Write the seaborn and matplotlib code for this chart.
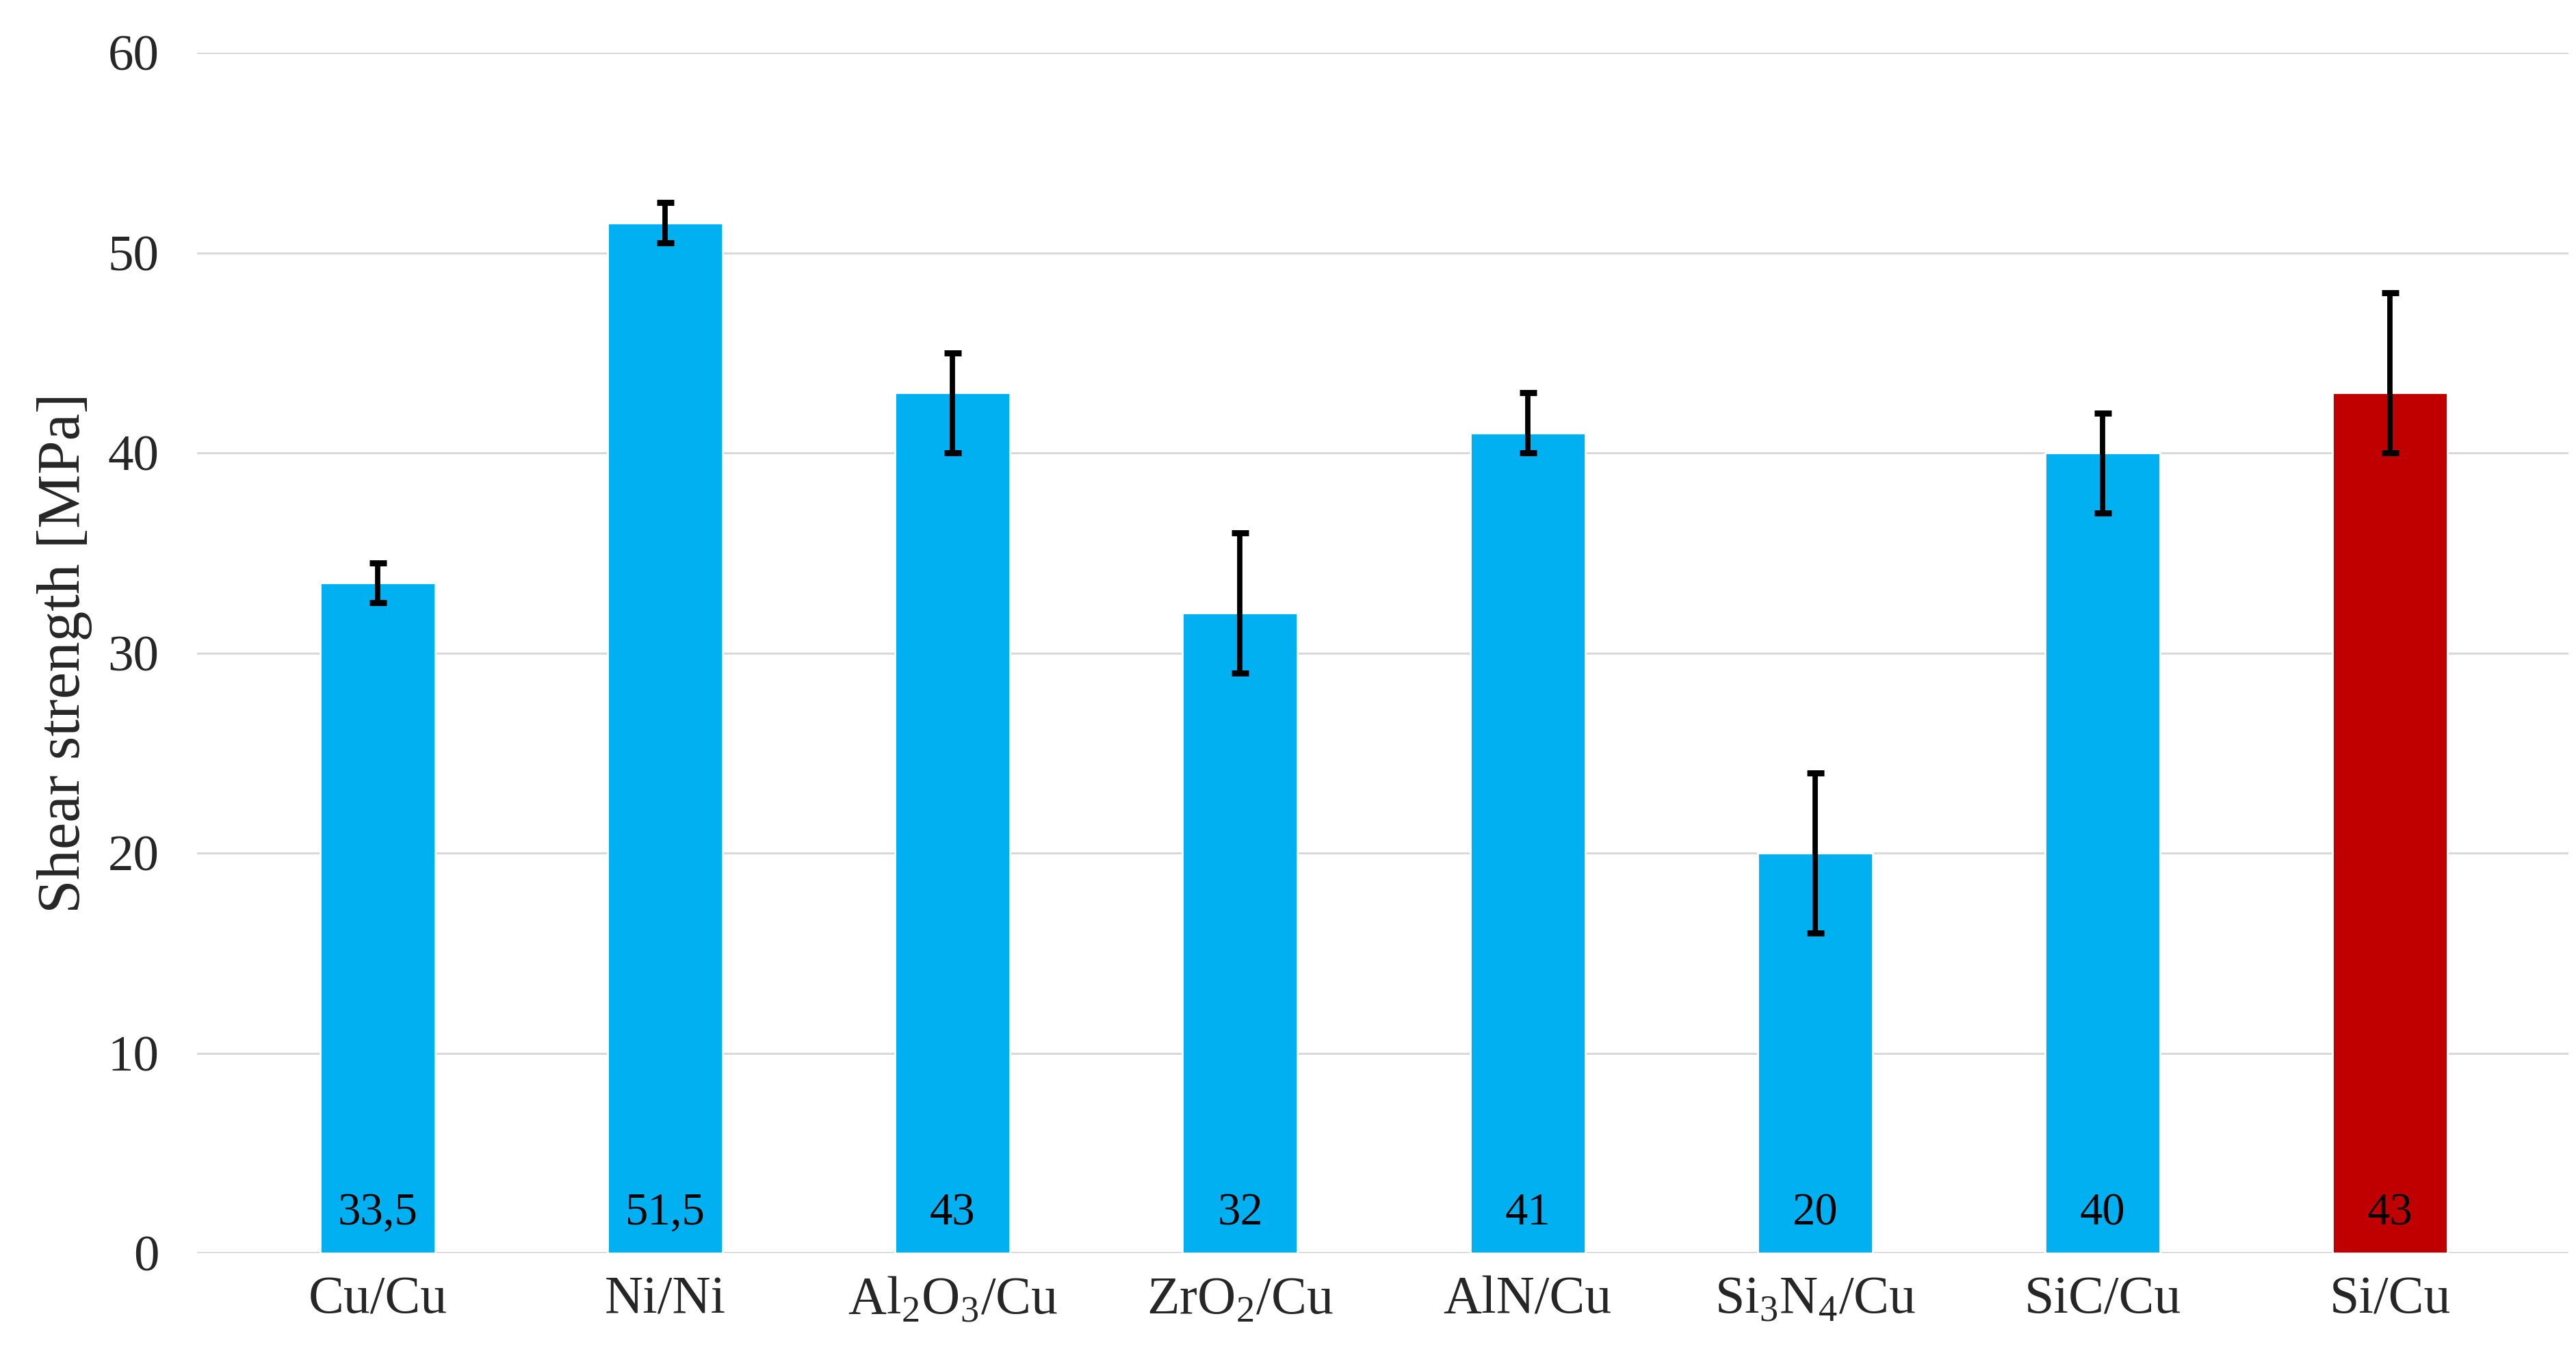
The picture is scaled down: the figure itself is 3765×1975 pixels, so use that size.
import matplotlib
matplotlib.use("Agg")
import matplotlib.pyplot as plt
import seaborn as sns
import pandas as pd

# dados de resistencia ao cisalhamento
joints = ["Cu/Cu", "Ni/Ni", "Al$_\\mathregular{2}$O$_\\mathregular{3}$/Cu", "ZrO$_\\mathregular{2}$/Cu",
          "AlN/Cu", "Si$_\\mathregular{3}$N$_\\mathregular{4}$/Cu", "SiC/Cu", "Si/Cu"]
strength = [33.5, 51.5, 43, 32, 41, 20, 40, 43]
err_low = [1, 1, 3, 3, 1, 4, 3, 3]
err_high = [1, 1, 2, 4, 2, 4, 2, 5]
value_labels = ["33,5", "51,5", "43", "32", "41", "20", "40", "43"]
bar_colors = ["#00B0F0"] * 7 + ["#C00000"]

df = pd.DataFrame({"joint": joints, "strength": strength})

sns.set_style("white")
plt.rcParams["font.family"] = ["Liberation Serif", "DejaVu Serif"]
plt.rcParams["mathtext.fontset"] = "custom"
plt.rcParams["mathtext.rm"] = "Liberation Serif"

fig = plt.figure(figsize=(18.825, 9.875), dpi=200)
ax = fig.add_axes([0.0765, 0.0724, 0.9205, 0.8886])

sns.barplot(data=df, x="joint", y="strength", hue="joint", palette=bar_colors,
            width=0.4, saturation=1, legend=False, ax=ax, zorder=3)

ax.errorbar(range(len(joints)), strength, yerr=[err_low, err_high], fmt="none",
            ecolor="black", elinewidth=2.8, capsize=4.5, capthick=3.2, zorder=4)

for i, lab in enumerate(value_labels):
    ax.text(i, 2.0, lab, ha="center", va="center", fontsize=24, color="black", zorder=5)

ax.set_ylim(0, 60)
ax.set_xlim(-0.628, 7.62)
ax.set_yticks(range(0, 61, 10))
ax.yaxis.grid(True, color="#D9D9D9", linewidth=1.1, zorder=0)
ax.set_axisbelow(True)
for s in ax.spines.values():
    s.set_visible(False)
ax.axhline(0, color="#D9D9D9", linewidth=1.3, zorder=2)

ax.tick_params(axis="y", length=0, pad=20, labelsize=27)
ax.tick_params(axis="x", length=0, pad=12, labelsize=28)
ax.set_xlabel("")
ax.set_ylabel("Shear strength [MPa]", fontsize=32, labelpad=8)

plt.savefig("out.png", dpi=200)
plt.close()
